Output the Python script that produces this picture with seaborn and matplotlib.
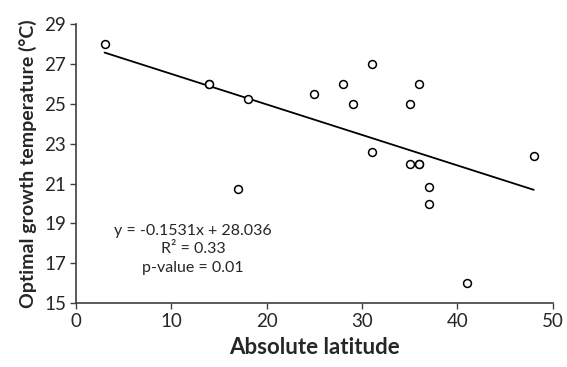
import numpy as np
import pandas as pd
import seaborn as sns
import matplotlib
matplotlib.use('Agg')
import matplotlib.pyplot as plt

# Data
latitude = [3, 14, 14, 18, 25, 28, 29, 31, 31, 35, 35, 36, 36, 36, 17, 37, 37, 41, 48]
temperature = [28.0, 26.0, 26.0, 25.25, 25.5, 26.0, 25.0, 27.0, 22.6, 25.0, 22.0, 26.0, 22.0, 22.0,
               20.75, 20.85, 20.0, 16.0, 22.4]
slope = -0.1531
intercept = 28.036
fit_x = [3, 48]
xticks = [0, 10, 20, 30, 40, 50]
yticks = [15, 17, 19, 21, 23, 25, 27, 29]

df = pd.DataFrame({'lat': latitude, 'temp': temperature})
fit = pd.DataFrame({'x': fit_x})
fit['y'] = intercept + slope * fit['x']

sns.set_style('ticks')
plt.rcParams['font.family'] = ['Lato', 'DejaVu Sans']

fig = plt.figure(figsize=(5.67, 3.67), dpi=100)
ax = fig.add_axes([0.134, 0.174, 0.841, 0.76])

sns.lineplot(data=fit, x='x', y='y', ax=ax, color='black', linewidth=1.3)
sns.scatterplot(data=df, x='lat', y='temp', ax=ax, marker='o', s=32,
                facecolor='white', edgecolor='black', linewidth=1.1, zorder=3)

ax.set_xlim(0, 50)
ax.set_ylim(15, 29)
ax.set_xticks(xticks)
ax.set_yticks(yticks)
ax.tick_params(axis='both', labelsize=13.5, length=4, width=1, color='#404040', pad=3)
for s in ['left', 'bottom']:
    ax.spines[s].set_color('#404040')
    ax.spines[s].set_linewidth(1.2)
sns.despine(ax=ax)

ax.set_xlabel('Absolute latitude', fontsize=16, fontweight='bold', labelpad=5)
ax.set_ylabel('Optimal growth temperature (°C)', fontsize=14, fontweight='bold', labelpad=5)

ax.text(12.3, 17.7, 'y = -0.1531x + 28.036\nR² = 0.33\np-value = 0.01',
        ha='center', va='center', fontsize=11.5, linespacing=1.4)

fig.savefig('out.png', dpi=100)
